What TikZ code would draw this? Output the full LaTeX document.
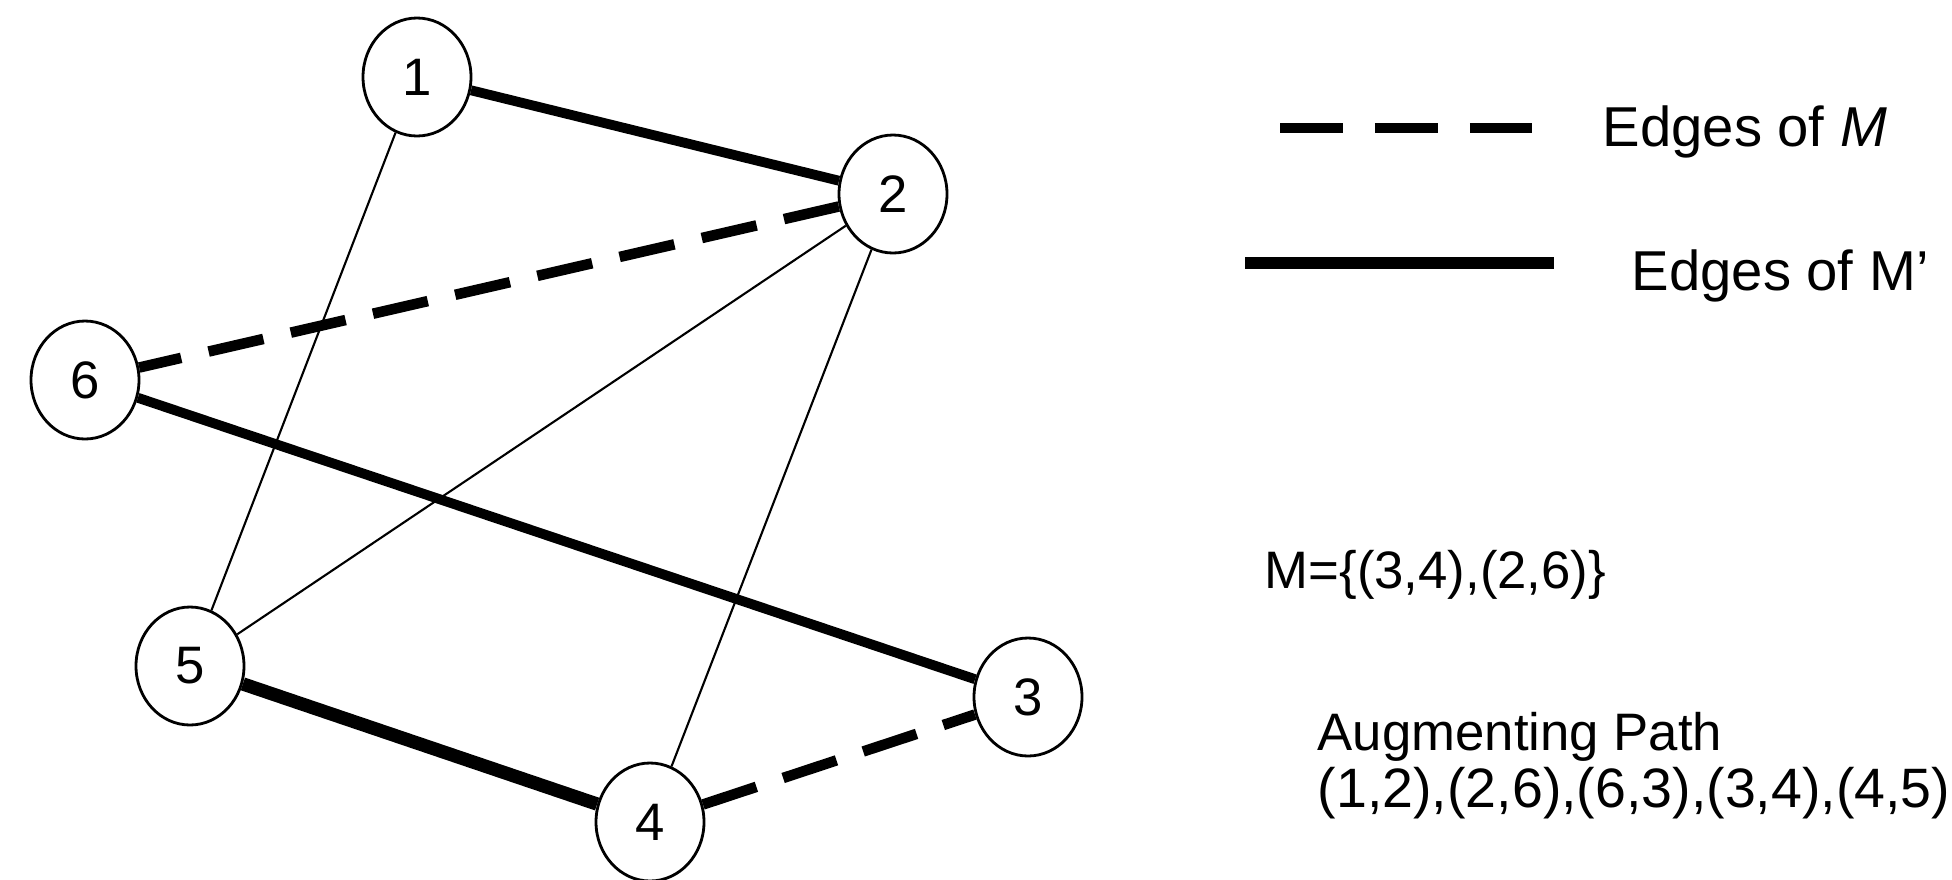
\documentclass[tikz,border=0pt]{standalone}
\usepackage{fontspec}
\setmainfont{Liberation Sans}
\usetikzlibrary{shapes.geometric}

\begin{document}
\begin{tikzpicture}[
  vtx/.style={draw,ellipse,line width=0.8pt,minimum width=1.08cm,minimum height=1.18cm,inner sep=0pt,font=\fontsize{15}{18}\selectfont},
  plain/.style={line width=0.6pt},
  inM/.style={line width=3pt,dash pattern=on 16pt off 8pt},
  inMp/.style={line width=2.8pt},
  lbl/.style={anchor=west,inner sep=0pt,font=\fontsize{16}{19}\selectfont}]
  \useasboundingbox (0,0) rectangle (19.52,8.79);
  % vertices
  \node[vtx] (n1) at (4.17,8.02) {1};
  \node[vtx] (n2) at (8.93,6.85) {2};
  \node[vtx] (n6) at (0.85,4.99) {6};
  \node[vtx] (n5) at (1.90,2.13) {5};
  \node[vtx] (n3) at (10.28,1.82) {3};
  \node[vtx] (n4) at (6.50,0.57) {4};
  % edges
  \draw[plain] (n1) -- (n5);
  \draw[plain] (n2) -- (n5);
  \draw[plain] (n2) -- (n4);
  \draw[inMp] (n1) -- (n2);
  \draw[inMp] (n6) -- (n3);
  \draw[inMp,line width=3.8pt] (n5) -- (n4);
  \draw[inM] (n2) -- (n6);
  \draw[inM] (n4) -- (n3);
  % legend
  \coordinate (mA) at (12.80,7.51);
  \coordinate (mB) at (15.32,7.51);
  \coordinate (mpA) at (12.45,6.16);
  \coordinate (mpB) at (15.54,6.16);
  \draw[inM,dash pattern=on 18pt off 9pt] (mA) -- (mB);
  \draw[inMp,line width=3.2pt] (mpA) -- (mpB);
  \node[lbl] (mtxt) at (16.02,7.47) {Edges of \textit{M}};
  \node[lbl] (mptxt) at (16.31,6.03) {Edges of M'};
  \node[lbl,font=\fontsize{15}{18}\selectfont] (mset) at (12.64,3.04) {M=\{(3,4),(2,6)\}};
  \node[lbl,font=\fontsize{15}{18}\selectfont] (aug) at (13.17,1.42) {Augmenting Path};
  \node[lbl,font=\fontsize{15.8}{19}\selectfont] (augp) at (13.17,0.86) {(1,2),(2,6),(6,3),(3,4),(4,5)};
\end{tikzpicture}
\end{document}
